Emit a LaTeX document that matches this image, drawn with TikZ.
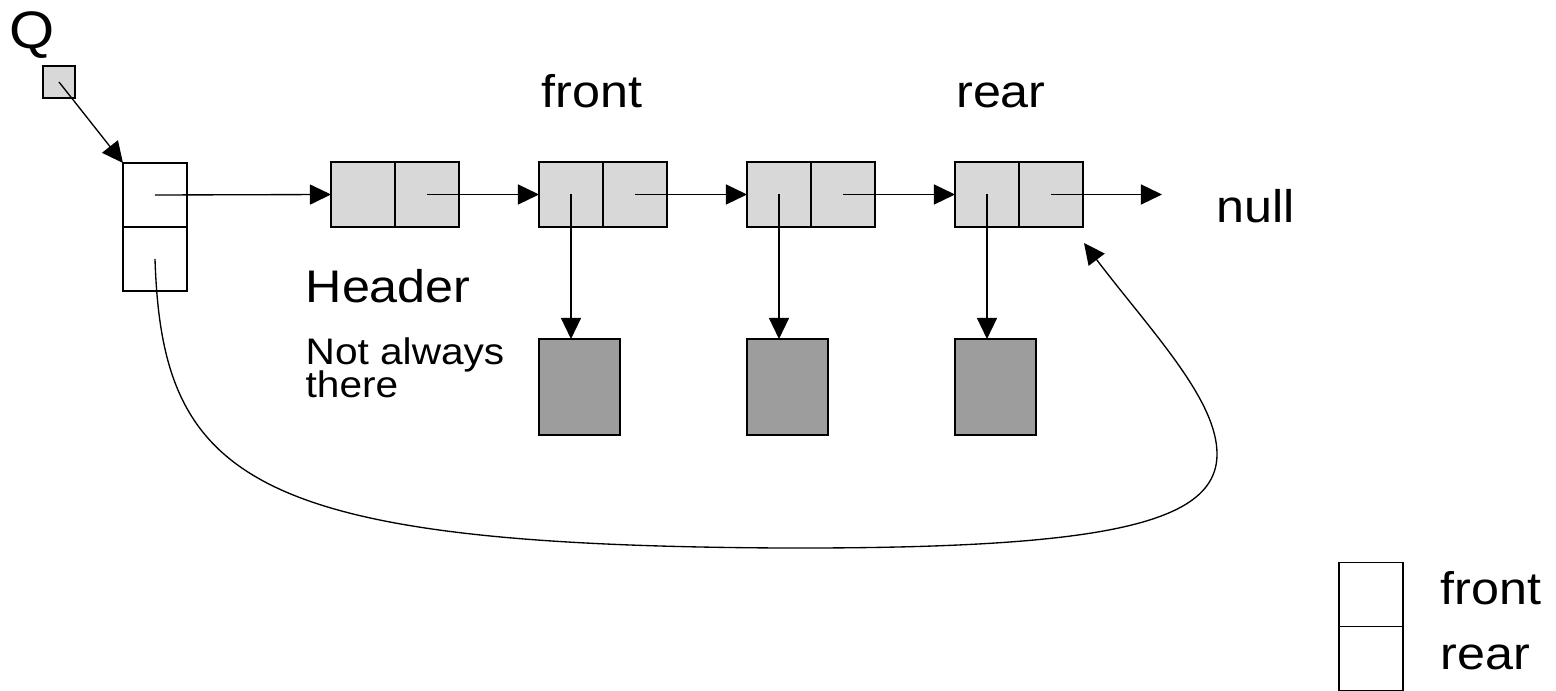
\documentclass[tikz,border=0pt]{standalone}
\usepackage{fontspec}
\setmainfont{Liberation Sans}
\usetikzlibrary{arrows.meta}
\definecolor{lightcell}{HTML}{D8D8D8}
\definecolor{darkcell}{HTML}{9D9D9D}
\newcommand{\sx}[1]{\scalebox{1.1}[1]{#1}}
\begin{document}
\begin{tikzpicture}[x=0.01cm,y=-0.01cm,
  cell/.style={draw, fill=lightcell, minimum width=0.64cm, minimum height=0.65cm, inner sep=0pt, outer sep=0pt, line width=0.45pt},
  qcell/.style={draw, fill=white, minimum width=0.64cm, minimum height=0.64cm, inner sep=0pt, outer sep=0pt, line width=0.45pt},
  qptr/.style={draw, fill=lightcell, minimum width=0.32cm, minimum height=0.32cm, inner sep=0pt, outer sep=0pt, line width=0.45pt},
  data/.style={draw, fill=darkcell, minimum width=0.81cm, minimum height=0.96cm, inner sep=0pt, outer sep=0pt, line width=0.45pt},
  arr/.style={line width=0.38pt, -{Triangle[length=0.21cm, width=0.2cm]}},
  bigtxt/.style={font=\fontsize{13}{15}\selectfont, inner sep=0pt},
  smalltxt/.style={font=\fontsize{10.5}{12}\selectfont, inner sep=0pt}]
\useasboundingbox (0,0) rectangle (1556,691);
% Q pointer
\node[bigtxt, font=\fontsize{15}{17}\selectfont, anchor=base] (qlabel) at (32,49) {\sx{Q}};
\node[qptr] (qp) at (59,82) {};
% Queue structure
\node[qcell] (qf) at (155,195) {};
\node[qcell] (qr) at (155,259) {};
% list nodes
\node[cell] (n1a) at (363,194.5) {};
\node[cell] (n1b) at (427,194.5) {};
\node[cell] (n2a) at (571,194.5) {};
\node[cell] (n2b) at (635,194.5) {};
\node[cell] (n3a) at (779,194.5) {};
\node[cell] (n3b) at (843,194.5) {};
\node[cell] (n4a) at (987,194.5) {};
\node[cell] (n4b) at (1051,194.5) {};
% data boxes
\node[data] (d2) at (579.5,387) {};
\node[data] (d3) at (787.5,387) {};
\node[data] (d4) at (995.5,387) {};
% labels
\node[bigtxt, anchor=base] (lfront) at (592,108) {\sx{front}};
\node[bigtxt, anchor=base] (lrear) at (1001,108) {\sx{rear}};
\node[bigtxt, anchor=base west] (lnull) at (1216,223) {\sx{null}};
\node[bigtxt, anchor=base west] (lhead) at (305,303) {\sx{Header}};
\node[smalltxt, anchor=base west] (lnot) at (305,365) {\sx{Not always}};
\node[smalltxt, anchor=base west] (lthere) at (305,398) {\sx{there}};
% legend
\node[qcell] (lf) at (1371,594.5) {};
\node[qcell] (lr) at (1371,658.5) {};
\node[bigtxt, anchor=base west] (lgf) at (1440,605) {\sx{front}};
\node[bigtxt, anchor=base west] (lgr) at (1440,670) {\sx{rear}};
% connectors
\coordinate (nullend) at (1162,194.5);
\coordinate (curveend) at (1084,243);
\draw[arr] (qp.center) -- (qf.north west);
\draw[arr] (qf.center) -- (n1a.west);
\draw[arr] (n1b.center) -- (n2a.west);
\draw[arr] (n2b.center) -- (n3a.west);
\draw[arr] (n3b.center) -- (n4a.west);
\draw[arr] (n4b.center) -- (nullend);
\draw[arr] (n2a.center) -- (n2a.center |- d2.north);
\draw[arr] (n3a.center) -- (n3a.center |- d3.north);
\draw[arr] (n4a.center) -- (n4a.center |- d4.north);
\draw[arr] (qr.center) .. controls (162,480) and (250,545) .. (780,548)
  .. controls (1100,549) and (1216,525) .. (1217,455)
  .. controls (1218,400) and (1150,330) .. (curveend);
\end{tikzpicture}
\end{document}
